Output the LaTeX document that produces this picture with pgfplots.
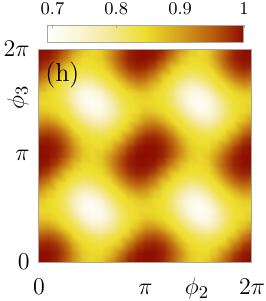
\documentclass[border=0pt]{standalone}
\usepackage{pgfplots}
\pgfplotsset{compat=1.18}
\pgfplotsset{colormap={hotw}{rgb255(0pt)=(255,255,252); rgb255(47pt)=(250,245,215); rgb255(97pt)=(244,232,150); rgb255(152pt)=(238,222,45); rgb255(207pt)=(212,160,28); rgb255(257pt)=(185,95,15); rgb255(307pt)=(140,12,0)}}
\begin{document}
\begin{tikzpicture}
\begin{axis}[
  width=106.5pt, height=106.5pt, scale only axis,
  xmin=0, xmax=24, ymin=0, ymax=24,
  xtick={0,12,24}, ytick={0,12,24},
  xticklabels={$0$,$\pi$,$2\pi$}, yticklabels={$0$,$\pi$,$2\pi$},
  major tick length=0pt,
  tick label style={font=\fontsize{13}{15}\selectfont},
  xticklabel style={anchor=base, yshift=-16.25pt},
  yticklabel style={anchor=east, inner sep=0pt, xshift=-4.5pt},
  axis line style={gray!70, line width=0.5pt},
  axis on top,
  colormap name=hotw,
  point meta min=0.693, point meta max=1,
]
\addplot[surf, shader=interp, mesh/cols=25, point meta=explicit] table[x=x,y=y,meta=z] {
x y z
0 0 1
1 0 0.998
2 0 0.9837
3 0 0.9505
4 0 0.9053
5 0 0.8657
6 0 0.85
7 0 0.8657
8 0 0.9053
9 0 0.9505
10 0 0.9837
11 0 0.998
12 0 1
13 0 0.998
14 0 0.9837
15 0 0.9505
16 0 0.9053
17 0 0.8657
18 0 0.85
19 0 0.8657
20 0 0.9053
21 0 0.9505
22 0 0.9837
23 0 0.998
24 0 1
0 1 0.998
1 1 0.9972
2 1 0.9857
3 1 0.9557
4 1 0.9093
5 1 0.8618
6 1 0.8493
7 1 0.8496
8 1 0.8725
9 1 0.9216
10 1 0.9649
11 1 0.9901
12 1 0.998
13 1 0.9972
14 1 0.9857
15 1 0.9557
16 1 0.9093
17 1 0.8618
18 1 0.8493
19 1 0.8496
20 1 0.8725
21 1 0.9216
22 1 0.9649
23 1 0.9901
24 1 0.998
0 2 0.9837
1 2 0.9857
2 2 0.972
3 2 0.9378
4 2 0.8843
5 2 0.8486
6 2 0.8406
7 2 0.8391
8 2 0.8466
9 2 0.868
10 2 0.9247
11 2 0.9649
12 2 0.9837
13 2 0.9857
14 2 0.972
15 2 0.9378
16 2 0.8843
17 2 0.8486
18 2 0.8406
19 2 0.8391
20 2 0.8466
21 2 0.868
22 2 0.9247
23 2 0.9649
24 2 0.9837
0 3 0.9505
1 3 0.9557
2 3 0.9378
3 3 0.895
4 3 0.8491
5 3 0.8333
6 3 0.8125
7 3 0.8073
8 3 0.8231
9 3 0.844
10 3 0.868
11 3 0.9216
12 3 0.9505
13 3 0.9557
14 3 0.9378
15 3 0.895
16 3 0.8491
17 3 0.8333
18 3 0.8125
19 3 0.8073
20 3 0.8231
21 3 0.844
22 3 0.868
23 3 0.9216
24 3 0.9505
0 4 0.9053
1 4 0.9093
2 4 0.8843
3 4 0.8491
4 4 0.8316
5 4 0.7966
6 4 0.7656
7 4 0.7611
8 4 0.7866
9 4 0.8231
10 4 0.8466
11 4 0.8725
12 4 0.9053
13 4 0.9093
14 4 0.8843
15 4 0.8491
16 4 0.8316
17 4 0.7966
18 4 0.7656
19 4 0.7611
20 4 0.7866
21 4 0.8231
22 4 0.8466
23 4 0.8725
24 4 0.9053
0 5 0.8657
1 5 0.8618
2 5 0.8486
3 5 0.8333
4 5 0.7966
5 5 0.75
6 5 0.7193
7 5 0.724
8 5 0.7611
9 5 0.8073
10 5 0.8391
11 5 0.8496
12 5 0.8657
13 5 0.8618
14 5 0.8486
15 5 0.8333
16 5 0.7966
17 5 0.75
18 5 0.7193
19 5 0.724
20 5 0.7611
21 5 0.8073
22 5 0.8391
23 5 0.8496
24 5 0.8657
0 6 0.85
1 6 0.8493
2 6 0.8406
3 6 0.8125
4 6 0.7656
5 6 0.7193
6 6 0.7
7 6 0.7193
8 6 0.7656
9 6 0.8125
10 6 0.8406
11 6 0.8493
12 6 0.85
13 6 0.8493
14 6 0.8406
15 6 0.8125
16 6 0.7656
17 6 0.7193
18 6 0.7
19 6 0.7193
20 6 0.7656
21 6 0.8125
22 6 0.8406
23 6 0.8493
24 6 0.85
0 7 0.8657
1 7 0.8496
2 7 0.8391
3 7 0.8073
4 7 0.7611
5 7 0.724
6 7 0.7193
7 7 0.75
8 7 0.7966
9 7 0.8333
10 7 0.8486
11 7 0.8618
12 7 0.8657
13 7 0.8496
14 7 0.8391
15 7 0.8073
16 7 0.7611
17 7 0.724
18 7 0.7193
19 7 0.75
20 7 0.7966
21 7 0.8333
22 7 0.8486
23 7 0.8618
24 7 0.8657
0 8 0.9053
1 8 0.8725
2 8 0.8466
3 8 0.8231
4 8 0.7866
5 8 0.7611
6 8 0.7656
7 8 0.7966
8 8 0.8316
9 8 0.8491
10 8 0.8843
11 8 0.9093
12 8 0.9053
13 8 0.8725
14 8 0.8466
15 8 0.8231
16 8 0.7866
17 8 0.7611
18 8 0.7656
19 8 0.7966
20 8 0.8316
21 8 0.8491
22 8 0.8843
23 8 0.9093
24 8 0.9053
0 9 0.9505
1 9 0.9216
2 9 0.868
3 9 0.844
4 9 0.8231
5 9 0.8073
6 9 0.8125
7 9 0.8333
8 9 0.8491
9 9 0.895
10 9 0.9378
11 9 0.9557
12 9 0.9505
13 9 0.9216
14 9 0.868
15 9 0.844
16 9 0.8231
17 9 0.8073
18 9 0.8125
19 9 0.8333
20 9 0.8491
21 9 0.895
22 9 0.9378
23 9 0.9557
24 9 0.9505
0 10 0.9837
1 10 0.9649
2 10 0.9247
3 10 0.868
4 10 0.8466
5 10 0.8391
6 10 0.8406
7 10 0.8486
8 10 0.8843
9 10 0.9378
10 10 0.972
11 10 0.9857
12 10 0.9837
13 10 0.9649
14 10 0.9247
15 10 0.868
16 10 0.8466
17 10 0.8391
18 10 0.8406
19 10 0.8486
20 10 0.8843
21 10 0.9378
22 10 0.972
23 10 0.9857
24 10 0.9837
0 11 0.998
1 11 0.9901
2 11 0.9649
3 11 0.9216
4 11 0.8725
5 11 0.8496
6 11 0.8493
7 11 0.8618
8 11 0.9093
9 11 0.9557
10 11 0.9857
11 11 0.9972
12 11 0.998
13 11 0.9901
14 11 0.9649
15 11 0.9216
16 11 0.8725
17 11 0.8496
18 11 0.8493
19 11 0.8618
20 11 0.9093
21 11 0.9557
22 11 0.9857
23 11 0.9972
24 11 0.998
0 12 1
1 12 0.998
2 12 0.9837
3 12 0.9505
4 12 0.9053
5 12 0.8657
6 12 0.85
7 12 0.8657
8 12 0.9053
9 12 0.9505
10 12 0.9837
11 12 0.998
12 12 1
13 12 0.998
14 12 0.9837
15 12 0.9505
16 12 0.9053
17 12 0.8657
18 12 0.85
19 12 0.8657
20 12 0.9053
21 12 0.9505
22 12 0.9837
23 12 0.998
24 12 1
0 13 0.998
1 13 0.9972
2 13 0.9857
3 13 0.9557
4 13 0.9093
5 13 0.8618
6 13 0.8493
7 13 0.8496
8 13 0.8725
9 13 0.9216
10 13 0.9649
11 13 0.9901
12 13 0.998
13 13 0.9972
14 13 0.9857
15 13 0.9557
16 13 0.9093
17 13 0.8618
18 13 0.8493
19 13 0.8496
20 13 0.8725
21 13 0.9216
22 13 0.9649
23 13 0.9901
24 13 0.998
0 14 0.9837
1 14 0.9857
2 14 0.972
3 14 0.9378
4 14 0.8843
5 14 0.8486
6 14 0.8406
7 14 0.8391
8 14 0.8466
9 14 0.868
10 14 0.9247
11 14 0.9649
12 14 0.9837
13 14 0.9857
14 14 0.972
15 14 0.9378
16 14 0.8843
17 14 0.8486
18 14 0.8406
19 14 0.8391
20 14 0.8466
21 14 0.868
22 14 0.9247
23 14 0.9649
24 14 0.9837
0 15 0.9505
1 15 0.9557
2 15 0.9378
3 15 0.895
4 15 0.8491
5 15 0.8333
6 15 0.8125
7 15 0.8073
8 15 0.8231
9 15 0.844
10 15 0.868
11 15 0.9216
12 15 0.9505
13 15 0.9557
14 15 0.9378
15 15 0.895
16 15 0.8491
17 15 0.8333
18 15 0.8125
19 15 0.8073
20 15 0.8231
21 15 0.844
22 15 0.868
23 15 0.9216
24 15 0.9505
0 16 0.9053
1 16 0.9093
2 16 0.8843
3 16 0.8491
4 16 0.8316
5 16 0.7966
6 16 0.7656
7 16 0.7611
8 16 0.7866
9 16 0.8231
10 16 0.8466
11 16 0.8725
12 16 0.9053
13 16 0.9093
14 16 0.8843
15 16 0.8491
16 16 0.8316
17 16 0.7966
18 16 0.7656
19 16 0.7611
20 16 0.7866
21 16 0.8231
22 16 0.8466
23 16 0.8725
24 16 0.9053
0 17 0.8657
1 17 0.8618
2 17 0.8486
3 17 0.8333
4 17 0.7966
5 17 0.75
6 17 0.7193
7 17 0.724
8 17 0.7611
9 17 0.8073
10 17 0.8391
11 17 0.8496
12 17 0.8657
13 17 0.8618
14 17 0.8486
15 17 0.8333
16 17 0.7966
17 17 0.75
18 17 0.7193
19 17 0.724
20 17 0.7611
21 17 0.8073
22 17 0.8391
23 17 0.8496
24 17 0.8657
0 18 0.85
1 18 0.8493
2 18 0.8406
3 18 0.8125
4 18 0.7656
5 18 0.7193
6 18 0.7
7 18 0.7193
8 18 0.7656
9 18 0.8125
10 18 0.8406
11 18 0.8493
12 18 0.85
13 18 0.8493
14 18 0.8406
15 18 0.8125
16 18 0.7656
17 18 0.7193
18 18 0.7
19 18 0.7193
20 18 0.7656
21 18 0.8125
22 18 0.8406
23 18 0.8493
24 18 0.85
0 19 0.8657
1 19 0.8496
2 19 0.8391
3 19 0.8073
4 19 0.7611
5 19 0.724
6 19 0.7193
7 19 0.75
8 19 0.7966
9 19 0.8333
10 19 0.8486
11 19 0.8618
12 19 0.8657
13 19 0.8496
14 19 0.8391
15 19 0.8073
16 19 0.7611
17 19 0.724
18 19 0.7193
19 19 0.75
20 19 0.7966
21 19 0.8333
22 19 0.8486
23 19 0.8618
24 19 0.8657
0 20 0.9053
1 20 0.8725
2 20 0.8466
3 20 0.8231
4 20 0.7866
5 20 0.7611
6 20 0.7656
7 20 0.7966
8 20 0.8316
9 20 0.8491
10 20 0.8843
11 20 0.9093
12 20 0.9053
13 20 0.8725
14 20 0.8466
15 20 0.8231
16 20 0.7866
17 20 0.7611
18 20 0.7656
19 20 0.7966
20 20 0.8316
21 20 0.8491
22 20 0.8843
23 20 0.9093
24 20 0.9053
0 21 0.9505
1 21 0.9216
2 21 0.868
3 21 0.844
4 21 0.8231
5 21 0.8073
6 21 0.8125
7 21 0.8333
8 21 0.8491
9 21 0.895
10 21 0.9378
11 21 0.9557
12 21 0.9505
13 21 0.9216
14 21 0.868
15 21 0.844
16 21 0.8231
17 21 0.8073
18 21 0.8125
19 21 0.8333
20 21 0.8491
21 21 0.895
22 21 0.9378
23 21 0.9557
24 21 0.9505
0 22 0.9837
1 22 0.9649
2 22 0.9247
3 22 0.868
4 22 0.8466
5 22 0.8391
6 22 0.8406
7 22 0.8486
8 22 0.8843
9 22 0.9378
10 22 0.972
11 22 0.9857
12 22 0.9837
13 22 0.9649
14 22 0.9247
15 22 0.868
16 22 0.8466
17 22 0.8391
18 22 0.8406
19 22 0.8486
20 22 0.8843
21 22 0.9378
22 22 0.972
23 22 0.9857
24 22 0.9837
0 23 0.998
1 23 0.9901
2 23 0.9649
3 23 0.9216
4 23 0.8725
5 23 0.8496
6 23 0.8493
7 23 0.8618
8 23 0.9093
9 23 0.9557
10 23 0.9857
11 23 0.9972
12 23 0.998
13 23 0.9901
14 23 0.9649
15 23 0.9216
16 23 0.8725
17 23 0.8496
18 23 0.8493
19 23 0.8618
20 23 0.9093
21 23 0.9557
22 23 0.9857
23 23 0.9972
24 23 0.998
0 24 1
1 24 0.998
2 24 0.9837
3 24 0.9505
4 24 0.9053
5 24 0.8657
6 24 0.85
7 24 0.8657
8 24 0.9053
9 24 0.9505
10 24 0.9837
11 24 0.998
12 24 1
13 24 0.998
14 24 0.9837
15 24 0.9505
16 24 0.9053
17 24 0.8657
18 24 0.85
19 24 0.8657
20 24 0.9053
21 24 0.9505
22 24 0.9837
23 24 0.998
24 24 1
};
\coordinate (sw) at (axis description cs:0,0);
\coordinate (ne) at (axis description cs:1,1);
\coordinate (nw) at (axis description cs:0,1);
\coordinate (xl) at (axis description cs:0.742,0);
\coordinate (yl) at (axis description cs:0,0.775);
\end{axis}
\path ([xshift=4.5pt,yshift=3.5pt]nw) coordinate (cbpos);
\begin{axis}[
  at={(cbpos)}, anchor=south west,
  width=98pt, height=8.5pt, scale only axis,
  xmin=0.693, xmax=1, ymin=0, ymax=1,
  xtick={0.7,0.8,0.9,1}, ytick=\empty,
  xtick pos=right, xticklabel pos=right,
  tick align=inside, major tick length=1.5pt,
  xticklabel style={anchor=base, yshift=5.5pt, font=\fontsize{9.5}{11}\selectfont},
  axis line style={gray!70, line width=0.5pt},
  tick style={gray!70},
  axis on top,
  colormap name=hotw,
  point meta min=0.693, point meta max=1,
]
\addplot[surf, shader=interp, mesh/cols=7, point meta=explicit] table[x=x,y=y,meta=z] {
x y z
0.693 0 0.693
0.74 0 0.74
0.79 0 0.79
0.845 0 0.845
0.9 0 0.9
0.95 0 0.95
1 0 1
0.693 1 0.693
0.74 1 0.74
0.79 1 0.79
0.845 1 0.845
0.9 1 0.9
0.95 1 0.95
1 1 1
};
\end{axis}
\node[anchor=north west, inner sep=0pt, font=\fontsize{13}{15}\selectfont] at ([xshift=3pt,yshift=-6.5pt]nw) {(h)};
\node[anchor=base, inner sep=0pt, font=\fontsize{13}{15}\selectfont] at ([yshift=-16.25pt]xl) {$\phi_2$};
\node[rotate=90, anchor=center, inner sep=0pt, font=\fontsize{13}{15}\selectfont] at ([xshift=-10.5pt]yl) {$\phi_3$};
\pgfresetboundingbox
\useasboundingbox ([xshift=-19.5pt,yshift=-19.5pt]sw) rectangle ([xshift=7pt,yshift=24.5pt]ne);
\end{tikzpicture}
\end{document}
